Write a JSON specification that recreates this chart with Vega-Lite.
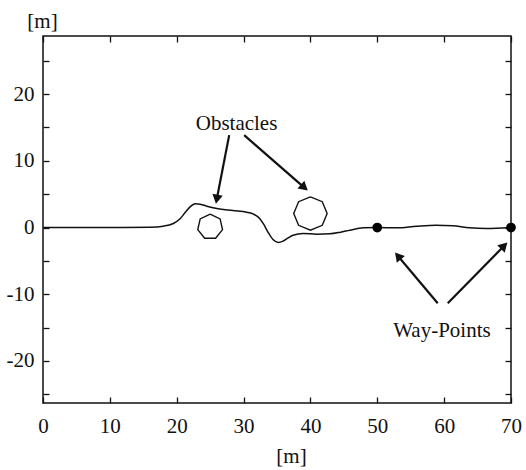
{
  "$schema": "https://vega.github.io/schema/vega-lite/v6.json",
  "width": 468,
  "height": 367,
  "autosize": {"type": "none"},
  "padding": {"left": 43, "top": 36, "right": 15, "bottom": 67},
  "background": "white",
  "config": {
    "view": {"stroke": "#111", "strokeWidth": 1.5},
    "font": "'Liberation Serif', 'Times New Roman', Times, serif",
    "axis": {
      "labelFont": "'Liberation Serif', 'Times New Roman', Times, serif",
      "labelFontSize": 21,
      "labelColor": "#111",
      "titleFont": "'Liberation Serif', 'Times New Roman', Times, serif",
      "titleFontSize": 21,
      "titleFontWeight": "normal",
      "titleColor": "#111",
      "domain": false,
      "grid": false,
      "tickColor": "#111",
      "tickWidth": 1.3,
      "tickSize": -6
    }
  },
  "datasets": {
    "path": [
      {"x": 0, "y": 0}, {"x": 10, "y": 0}, {"x": 16, "y": 0.05}, {"x": 18, "y": 0.2},
      {"x": 19.5, "y": 0.6}, {"x": 20.5, "y": 1.3}, {"x": 21.3, "y": 2.3}, {"x": 22, "y": 3.1},
      {"x": 22.8, "y": 3.55}, {"x": 23.5, "y": 3.5}, {"x": 24.5, "y": 3.2}, {"x": 26, "y": 2.85},
      {"x": 28.4, "y": 2.55}, {"x": 30.5, "y": 2.3}, {"x": 31.5, "y": 2.0}, {"x": 32.4, "y": 1.35},
      {"x": 33, "y": 0.5}, {"x": 33.6, "y": -0.6}, {"x": 34.4, "y": -1.8}, {"x": 35.2, "y": -2.25},
      {"x": 35.9, "y": -2.05}, {"x": 36.6, "y": -1.6}, {"x": 37.4, "y": -1.15}, {"x": 38.9, "y": -0.9},
      {"x": 40.9, "y": -1.0}, {"x": 42.9, "y": -0.95}, {"x": 44.5, "y": -0.7}, {"x": 45.9, "y": -0.4},
      {"x": 47.9, "y": -0.05}, {"x": 50, "y": 0}, {"x": 52.9, "y": -0.05}, {"x": 55.9, "y": 0.2},
      {"x": 58.8, "y": 0.35}, {"x": 61.3, "y": 0.25}, {"x": 63.8, "y": -0.05}, {"x": 66.3, "y": -0.15},
      {"x": 70, "y": 0}
    ],
    "obstacles": [
      {"id": "A", "k": 0, "x": 25, "y": 2.0}, {"id": "A", "k": 1, "x": 26.49, "y": 1.29},
      {"id": "A", "k": 2, "x": 26.85, "y": -0.32}, {"id": "A", "k": 3, "x": 25.82, "y": -1.61},
      {"id": "A", "k": 4, "x": 24.18, "y": -1.61}, {"id": "A", "k": 5, "x": 23.15, "y": -0.32},
      {"id": "A", "k": 6, "x": 23.51, "y": 1.29}, {"id": "A", "k": 7, "x": 25, "y": 2.0},
      {"id": "B", "k": 0, "x": 40, "y": 4.6}, {"id": "B", "k": 1, "x": 41.77, "y": 3.87},
      {"id": "B", "k": 2, "x": 42.5, "y": 2.1}, {"id": "B", "k": 3, "x": 41.77, "y": 0.33},
      {"id": "B", "k": 4, "x": 40, "y": -0.4}, {"id": "B", "k": 5, "x": 38.23, "y": 0.33},
      {"id": "B", "k": 6, "x": 37.5, "y": 2.1}, {"id": "B", "k": 7, "x": 38.23, "y": 3.87},
      {"id": "B", "k": 8, "x": 40, "y": 4.6}
    ],
    "waypoints": [{"x": 50, "y": 0}, {"x": 70, "y": 0}],
    "arrows": [
      {"x": 27.85, "y": 13.84, "x2": 25.99, "y2": 4.23, "heading": 190.9},
      {"x": 30.09, "y": 13.84, "x2": 39.09, "y2": 5.98, "heading": 131.0},
      {"x": 59.04, "y": -11.35, "x2": 53.09, "y2": -4.27, "heading": 319.9},
      {"x": 60.54, "y": -11.35, "x2": 68.98, "y2": -2.74, "heading": 44.5}
    ],
    "labels": [
      {"x": 28.95, "y": 14.6, "text": "Obstacles"},
      {"x": 59.67, "y": -16.4, "text": "Way-Points"}
    ]
  },
  "resolve": {"axis": {"x": "independent", "y": "independent"}},
  "layer": [
    {
      "data": {"name": "path"},
      "mark": {"type": "line", "color": "#111", "strokeWidth": 1.5, "interpolate": "monotone", "clip": true},
      "encoding": {
        "x": {
          "field": "x", "type": "quantitative",
          "scale": {"domain": [0, 70], "nice": false, "zero": false},
          "axis": {
            "orient": "bottom", "values": [0, 10, 20, 30, 40, 50, 60, 70],
            "labelFlush": false, "labelPadding": 18,
            "labelExpr": "'' + datum.value",
            "title": "[m]", "titleX": 248, "titleY": 53, "titleBaseline": "middle", "titleAlign": "center"
          }
        },
        "y": {
          "field": "y", "type": "quantitative",
          "scale": {"domain": [-26.3, 28.7], "nice": false, "zero": false},
          "axis": {
            "orient": "left", "values": [-25, -20, -15, -10, -5, 0, 5, 10, 15, 20, 25],
            "labelFlush": false, "labelPadding": 15,
            "labelExpr": "datum.value % 10 === 0 ? '' + datum.value : ''",
            "title": "[m]", "titleAngle": 0, "titleX": -1, "titleY": -15,
            "titleBaseline": "middle", "titleAlign": "center"
          }
        }
      }
    },
    {
      "data": {"name": "obstacles"},
      "mark": {"type": "line", "color": "#111", "strokeWidth": 1.4},
      "encoding": {
        "x": {"field": "x", "type": "quantitative", "axis": null},
        "y": {"field": "y", "type": "quantitative", "axis": null},
        "detail": {"field": "id"},
        "order": {"field": "k", "type": "quantitative"}
      }
    },
    {
      "data": {"name": "arrows"},
      "mark": {"type": "rule", "color": "#111", "strokeWidth": 2.2},
      "encoding": {
        "x": {"field": "x", "type": "quantitative", "axis": null},
        "y": {"field": "y", "type": "quantitative", "axis": null},
        "x2": {"field": "x2"},
        "y2": {"field": "y2"}
      }
    },
    {
      "data": {"name": "arrows"},
      "mark": {"type": "point", "shape": "triangle-up", "filled": true, "color": "#111", "size": 110, "opacity": 1},
      "encoding": {
        "x": {"field": "x2", "type": "quantitative", "axis": null},
        "y": {"field": "y2", "type": "quantitative", "axis": null},
        "angle": {"field": "heading", "type": "quantitative", "scale": null}
      }
    },
    {
      "data": {"name": "waypoints"},
      "mark": {"type": "point", "filled": true, "color": "#000", "size": 95, "opacity": 1, "clip": false},
      "encoding": {
        "x": {
          "field": "x", "type": "quantitative",
          "axis": {"orient": "top", "values": [0, 10, 20, 30, 40, 50, 60, 70], "labels": false, "title": null}
        },
        "y": {
          "field": "y", "type": "quantitative",
          "axis": {"orient": "right", "values": [-25, -20, -15, -10, -5, 0, 5, 10, 15, 20, 25], "labels": false, "title": null}
        }
      }
    },
    {
      "data": {"name": "labels"},
      "mark": {"type": "text", "font": "'Liberation Serif', 'Times New Roman', Times, serif", "fontSize": 21, "color": "#111", "align": "center", "baseline": "alphabetic"},
      "encoding": {
        "x": {"field": "x", "type": "quantitative", "axis": null},
        "y": {"field": "y", "type": "quantitative", "axis": null},
        "text": {"field": "text"}
      }
    }
  ]
}
